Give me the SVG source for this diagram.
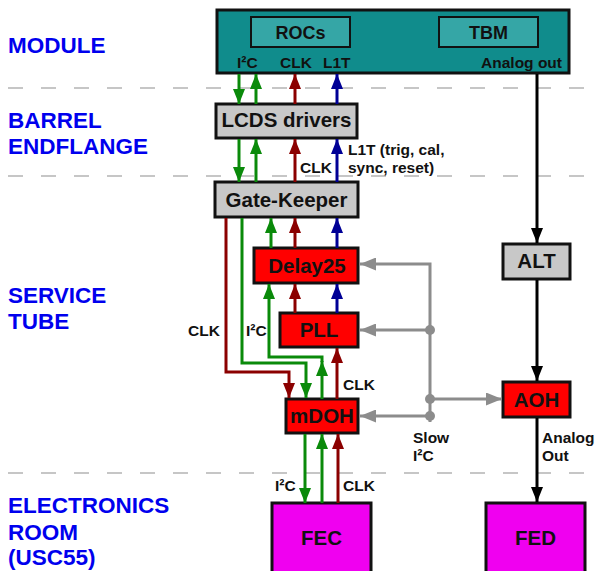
<svg xmlns="http://www.w3.org/2000/svg" width="596" height="571" viewBox="0 0 596 571">
<style>
text{font-family:"Liberation Sans",Arial,sans-serif;font-weight:bold}
.sec{fill:#0000ee;font-size:22.5px}
.nt{font-size:20.5px;fill:#111;text-anchor:middle}
.lb{font-size:15.5px;fill:#111}
.box{stroke:#111;stroke-width:3}
.grey{fill:#c8c8c8}
.red{fill:#ff0000}
.mag{fill:#f000f0}
.dash{stroke:#b4b4b4;stroke-width:1.5;stroke-dasharray:15 18;fill:none}
.g{stroke:#0a8a0a;stroke-width:3;fill:none}
.r{stroke:#8b0000;stroke-width:3;fill:none}
.b{stroke:#000096;stroke-width:3;fill:none}
.k{stroke:#000;stroke-width:3;fill:none}
.s{stroke:#8c8c8c;stroke-width:3;fill:none}
</style>
<defs>
<marker id="ag" viewBox="0 0 15 12" refX="15" refY="6" markerWidth="15" markerHeight="12" markerUnits="userSpaceOnUse" orient="auto"><path d="M0,0 L15,6 L0,12 z" fill="#0a8a0a"/></marker>
<marker id="ar" viewBox="0 0 15 12" refX="15" refY="6" markerWidth="15" markerHeight="12" markerUnits="userSpaceOnUse" orient="auto"><path d="M0,0 L15,6 L0,12 z" fill="#8b0000"/></marker>
<marker id="ab" viewBox="0 0 15 12" refX="15" refY="6" markerWidth="15" markerHeight="12" markerUnits="userSpaceOnUse" orient="auto"><path d="M0,0 L15,6 L0,12 z" fill="#000096"/></marker>
<marker id="ak" viewBox="0 0 15 12" refX="15" refY="6" markerWidth="15" markerHeight="12" markerUnits="userSpaceOnUse" orient="auto"><path d="M0,0 L15,6 L0,12 z" fill="#000"/></marker>
<marker id="as" viewBox="0 0 16 13" refX="16" refY="6.5" markerWidth="16" markerHeight="13" markerUnits="userSpaceOnUse" orient="auto"><path d="M0,0 L16,6.5 L0,13 z" fill="#8c8c8c"/></marker>
</defs>
<rect width="596" height="571" fill="#fff"/>

<g id="separators">
<line class="dash" x1="8" y1="88" x2="596" y2="88"/>
<line class="dash" x1="8" y1="176" x2="596" y2="176"/>
<line class="dash" x1="8" y1="473" x2="596" y2="473"/>
</g>

<g id="sections">
<text class="sec" x="8" y="53">MODULE</text>
<text class="sec" x="8" y="128">BARREL</text>
<text class="sec" x="8" y="154">ENDFLANGE</text>
<text class="sec" x="8" y="303">SERVICE</text>
<text class="sec" x="8" y="329">TUBE</text>
<text class="sec" x="8" y="513">ELECTRONICS</text>
<text class="sec" x="8" y="540">ROOM</text>
<text class="sec" x="8" y="565">(USC55)</text>
</g>

<g id="module">
<rect class="box" x="217" y="10" width="352" height="63" fill="#108c8c" stroke-width="3.5"/>
<g id="rocs"><rect x="251" y="17" width="99" height="30" fill="#35a6a6" stroke="#111" stroke-width="2"/>
<text class="nt" x="300.5" y="39" style="font-size:18px">ROCs</text></g>
<g id="tbm"><rect x="439" y="17" width="99" height="30" fill="#35a6a6" stroke="#111" stroke-width="2"/>
<text class="nt" x="488.5" y="39" style="font-size:18px">TBM</text></g>
<text class="lb" x="237" y="68">I²C</text>
<text class="lb" x="280" y="68">CLK</text>
<text class="lb" x="323" y="68">L1T</text>
<text class="lb" x="562" y="68" text-anchor="end">Analog out</text>
</g>

<g id="lcds">
<rect class="box grey" x="216" y="104" width="141" height="34"/>
<text class="nt" x="286.5" y="127">LCDS drivers</text>
</g>

<g id="gatekeeper">
<rect class="box grey" x="215" y="182" width="143" height="35"/>
<text class="nt" x="286.5" y="207">Gate-Keeper</text>
</g>

<g id="delay25">
<rect class="box red" x="254" y="248" width="104" height="35"/>
<text class="nt" x="307" y="273">Delay25</text>
</g>

<g id="pll">
<rect class="box red" x="280" y="313" width="78" height="34"/>
<text class="nt" x="319" y="337">PLL</text>
</g>

<g id="mdoh">
<rect class="box red" x="286" y="399" width="72" height="34"/>
<text class="nt" x="322" y="423">mDOH</text>
</g>

<g id="alt">
<rect class="box grey" x="503" y="244" width="67" height="35"/>
<text class="nt" x="536.5" y="268">ALT</text>
</g>

<g id="aoh">
<rect class="box red" x="503" y="382" width="67" height="35"/>
<text class="nt" x="536.5" y="407">AOH</text>
</g>

<g id="fec">
<rect class="box mag" x="272" y="503" width="99" height="80"/>
<text class="nt" x="321.5" y="545">FEC</text>
</g>

<g id="fed">
<rect class="box mag" x="486" y="503" width="99" height="80"/>
<text class="nt" x="535.5" y="545">FED</text>
</g>

<g id="connectors">
<!-- module <-> LCDS -->
<line class="g" x1="239" y1="74" x2="239" y2="104" marker-end="url(#ag)"/>
<line class="g" x1="256" y1="104" x2="256" y2="74" marker-end="url(#ag)"/>
<line class="r" x1="295" y1="104" x2="295" y2="74" marker-end="url(#ar)"/>
<line class="b" x1="337" y1="104" x2="337" y2="74" marker-end="url(#ab)"/>
<!-- LCDS <-> GK -->
<line class="g" x1="239" y1="139" x2="239" y2="182" marker-end="url(#ag)"/>
<line class="g" x1="256" y1="182" x2="256" y2="139" marker-end="url(#ag)"/>
<line class="r" x1="295" y1="182" x2="295" y2="139" marker-end="url(#ar)"/>
<line class="b" x1="337" y1="182" x2="337" y2="139" marker-end="url(#ab)"/>
<!-- GK <-> Delay25 -->
<line class="g" x1="271" y1="248" x2="271" y2="218" marker-end="url(#ag)"/>
<line class="r" x1="295" y1="248" x2="295" y2="218" marker-end="url(#ar)"/>
<line class="b" x1="337" y1="248" x2="337" y2="218" marker-end="url(#ab)"/>
<!-- Delay25 <-> PLL -->
<line class="r" x1="295" y1="313" x2="295" y2="284" marker-end="url(#ar)"/>
<line class="b" x1="337" y1="313" x2="337" y2="284" marker-end="url(#ab)"/>
<!-- GK to mDOH -->
<path class="r" d="M226,218 V372 H289 V398" marker-end="url(#ar)"/>
<path class="g" d="M242,218 V363 H306 V398" marker-end="url(#ag)"/>
<!-- mDOH up to Delay25 (I2C) -->
<line class="g" x1="322" y1="399" x2="322" y2="361" marker-end="url(#ag)"/>
<path class="g" d="M322,362 V357 H269 V284" marker-end="url(#ag)"/>
<!-- mDOH to PLL CLK -->
<line class="r" x1="337" y1="399" x2="337" y2="348" marker-end="url(#ar)"/>
<!-- FEC <-> mDOH -->
<line class="g" x1="305" y1="434" x2="305" y2="503" marker-end="url(#ag)"/>
<line class="g" x1="322" y1="503" x2="322" y2="434" marker-end="url(#ag)"/>
<line class="r" x1="338" y1="503" x2="338" y2="434" marker-end="url(#ar)"/>
<!-- analog chain -->
<line class="k" x1="537" y1="74" x2="537" y2="243" marker-end="url(#ak)"/>
<line class="k" x1="537" y1="280" x2="537" y2="381" marker-end="url(#ak)"/>
<line class="k" x1="537" y1="418" x2="537" y2="502" marker-end="url(#ak)"/>
<!-- slow I2C -->
<path class="s" d="M430,422 V264 H360" marker-end="url(#as)"/>
<line class="s" x1="430" y1="330" x2="360" y2="330" marker-end="url(#as)"/>
<line class="s" x1="430" y1="399" x2="502" y2="399" marker-end="url(#as)"/>
<line class="s" x1="430" y1="416" x2="360" y2="416" marker-end="url(#as)"/>
<circle cx="430" cy="330" r="5" fill="#8c8c8c"/>
<circle cx="430" cy="399" r="5" fill="#8c8c8c"/>
<circle cx="430" cy="416" r="5" fill="#8c8c8c"/>
</g>

<g id="labels">
<text class="lb" x="300" y="173">CLK</text>
<text class="lb" x="348" y="155">L1T (trig, cal,</text>
<text class="lb" x="348" y="173">sync, reset)</text>
<text class="lb" x="188" y="336">CLK</text>
<text class="lb" x="246" y="336">I²C</text>
<text class="lb" x="343" y="390">CLK</text>
<text class="lb" x="413" y="443">Slow</text>
<text class="lb" x="413" y="461">I²C</text>
<text class="lb" x="542" y="443">Analog</text>
<text class="lb" x="542" y="461">Out</text>
<text class="lb" x="275" y="491">I²C</text>
<text class="lb" x="343" y="491">CLK</text>
</g>
</svg>
